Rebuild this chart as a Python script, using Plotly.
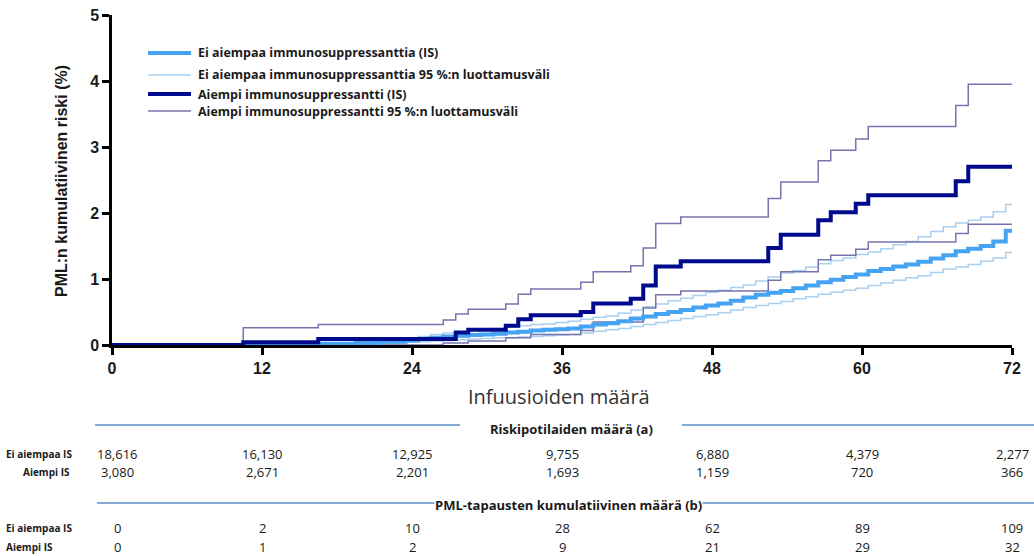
import plotly.graph_objects as go

# ---------------- data ----------------
x_ticks = [0, 12, 24, 36, 48, 60, 72]
y_ticks = [0, 1, 2, 3, 4, 5]

# Ei aiempaa immunosuppressanttia (no prior IS) - step times and cumulative risk (%)
noIS_steps = [16.5, 19.5, 21.5, 23.5, 24.5, 25.5, 26.5, 27.5, 28.5, 29.5, 30.5, 31.5, 32.5, 33.5,
              34.5, 35.5, 36.5, 37.5, 38.5, 39.5, 40.5, 41.5, 42.5, 43.5, 44.5, 45.5, 46.5, 47.5,
              48.5, 49.5, 50.5, 51.5, 52.5, 53.5, 54.5, 55.5, 56.5, 57.5, 58.5, 59.5, 60.5, 61.5,
              62.5, 63.5, 64.5, 65.5, 66.5, 67.5, 68.5, 69.5, 70.5, 71.5]
noIS_est = [0.02, 0.03, 0.05, 0.07, 0.09, 0.11, 0.13, 0.14, 0.15, 0.16, 0.17, 0.19, 0.20, 0.22,
            0.23, 0.24, 0.25, 0.28, 0.31, 0.33, 0.36, 0.40, 0.43, 0.47, 0.50, 0.53, 0.57, 0.60,
            0.63, 0.67, 0.72, 0.76, 0.79, 0.82, 0.86, 0.90, 0.95, 0.99, 1.03, 1.07, 1.12, 1.15,
            1.19, 1.22, 1.26, 1.31, 1.36, 1.42, 1.46, 1.50, 1.57, 1.73]
noIS_upper = [0.03, 0.05, 0.08, 0.11, 0.13, 0.16, 0.18, 0.20, 0.22, 0.23, 0.25, 0.27, 0.29, 0.31,
              0.32, 0.34, 0.36, 0.39, 0.42, 0.44, 0.48, 0.53, 0.58, 0.62, 0.67, 0.71, 0.75, 0.80,
              0.83, 0.87, 0.91, 0.97, 1.03, 1.09, 1.13, 1.18, 1.23, 1.28, 1.32, 1.37, 1.41, 1.46,
              1.52, 1.57, 1.64, 1.72, 1.79, 1.85, 1.89, 1.94, 2.02, 2.13]
noIS_lower = [0.01, 0.01, 0.02, 0.04, 0.05, 0.06, 0.07, 0.08, 0.09, 0.10, 0.11, 0.11, 0.12, 0.13,
              0.14, 0.15, 0.16, 0.18, 0.21, 0.23, 0.25, 0.28, 0.31, 0.34, 0.37, 0.40, 0.43, 0.46,
              0.49, 0.53, 0.57, 0.60, 0.63, 0.66, 0.70, 0.73, 0.77, 0.80, 0.83, 0.86, 0.90, 0.94,
              0.98, 1.02, 1.05, 1.10, 1.15, 1.18, 1.22, 1.27, 1.32, 1.40]

# Aiempi immunosuppressantti (prior IS)
IS_est_steps = [10.5, 16.5, 27.5, 28.5, 31.5, 32.5, 33.5, 37.5, 38.5, 41.5, 42.5, 43.5, 45.5,
                52.5, 53.5, 56.5, 57.5, 59.5, 60.5, 67.5, 68.5]
IS_est = [0.04, 0.09, 0.19, 0.23, 0.29, 0.39, 0.45, 0.50, 0.63, 0.70, 0.90, 1.19, 1.27,
          1.47, 1.67, 1.89, 2.01, 2.14, 2.27, 2.48, 2.70]
IS_upper_steps = [10.5, 16.5, 26.5, 27.5, 28.5, 31.5, 32.5, 33.5, 37.5, 38.5, 41.5, 42.5, 43.5,
                  45.5, 52.5, 53.5, 56.5, 57.5, 59.5, 60.5, 67.5, 68.5]
IS_upper = [0.26, 0.31, 0.38, 0.47, 0.54, 0.62, 0.77, 0.85, 0.95, 1.11, 1.20, 1.47, 1.84,
            1.94, 2.22, 2.47, 2.79, 2.95, 3.12, 3.31, 3.63, 3.95]
IS_lower_steps = [26.5, 28.5, 31.5, 33.5, 37.5, 38.5, 42.5, 43.5, 45.5, 52.5, 53.5, 56.5, 57.5,
                  59.5, 60.5, 67.5, 68.5]
IS_lower = [0.03, 0.06, 0.11, 0.16, 0.22, 0.35, 0.56, 0.76, 0.82, 0.98, 1.11, 1.29, 1.36,
            1.45, 1.56, 1.69, 1.83]

# risk table
risk_noIS = ["18,616", "16,130", "12,925", "9,755", "6,880", "4,379", "2,277"]
risk_IS = ["3,080", "2,671", "2,201", "1,693", "1,159", "720", "366"]
cases_noIS = ["0", "2", "10", "28", "62", "89", "109"]
cases_IS = ["0", "1", "2", "9", "21", "29", "32"]

legend_labels = ["Ei aiempaa immunosuppressanttia (IS)",
                 "Ei aiempaa immunosuppressanttia 95 %:n luottamusväli",
                 "Aiempi immunosuppressantti (IS)",
                 "Aiempi immunosuppressantti 95 %:n luottamusväli"]

# ---------------- styles ----------------
C_EST = "#45A3F2"
C_CI = "#A9D0F0"
C_IS = "#000A8C"
C_IS_CI = "#7674AE"
X_MAX = 72


def step_xy(steps, vals):
    xs = [0] + list(steps) + [X_MAX]
    ys = [0] + list(vals) + [vals[-1]]
    return xs, ys


fig = go.Figure()
series = [
    (noIS_steps, noIS_upper, C_CI, 1.5),
    (noIS_steps, noIS_lower, C_CI, 1.5),
    (IS_upper_steps, IS_upper, C_IS_CI, 1.5),
    (IS_lower_steps, IS_lower, C_IS_CI, 1.5),
    (noIS_steps, noIS_est, C_EST, 4),
    (IS_est_steps, IS_est, C_IS, 4),
]
for steps, vals, col, w in series:
    xs, ys = step_xy(steps, vals)
    fig.add_trace(go.Scatter(x=xs, y=ys, mode="lines", line=dict(color=col, width=w, shape="hv"),
                             showlegend=False, hoverinfo="skip"))

PL, PR, PT, PB = 112, 22, 15, 211
W, H = 1034, 556
PW, PH = W - PL - PR, H - PT - PB


def px_x(px):
    return (px - PL) / PW


def px_y(py):
    return (H - PB - py) / PH


tickfont = dict(family="Liberation Sans, Arial", size=16, color="#1a1a1a", weight="bold")
fig.update_layout(
    width=W, height=H,
    margin=dict(l=PL, r=PR, t=PT, b=PB, autoexpand=False),
    plot_bgcolor="white", paper_bgcolor="white",
    xaxis=dict(range=[0, X_MAX], tickvals=x_ticks, ticktext=[str(t) for t in x_ticks],
               showgrid=False, zeroline=False, showline=True, linecolor="black", linewidth=2.5,
               ticks="outside", ticklen=7, tickwidth=2.5, tickcolor="black", tickfont=tickfont),
    yaxis=dict(range=[0, 5], tickvals=y_ticks, ticktext=[str(t) for t in y_ticks],
               showgrid=False, zeroline=False, showline=True, linecolor="black", linewidth=2.5,
               ticks="outside", ticklen=7, tickwidth=2.5, tickcolor="black", tickfont=tickfont),
    showlegend=False,
)

ann = []
# y-axis title
ann.append(dict(text="PML:n kumulatiivinen riski (%)", x=px_x(61), y=px_y(181), xref="paper", yref="paper",
                xanchor="center", yanchor="middle", textangle=-90, showarrow=False,
                font=dict(family="Liberation Sans, Arial", size=16, color="#1a1a1a", weight="bold")))
# x-axis title
ann.append(dict(text="Infuusioiden määrä", x=px_x(559), y=px_y(397), xref="paper", yref="paper",
                xanchor="center", yanchor="middle",
                showarrow=False, font=dict(family="Open Sans", size=20, color="#333333")))

# legend (manual)
leg_font = dict(family="Open Sans", size=12.5, color="#1a1a1a", weight="bold")
leg_styles = [(C_EST, 4), (C_CI, 1.5), (C_IS, 4), (C_IS_CI, 1.5)]
leg_y = [53, 75, 94, 111]
shapes = []
for lab, (col, w), ly in zip(legend_labels, leg_styles, leg_y):
    shapes.append(dict(type="line", xref="paper", yref="paper", x0=px_x(148), x1=px_x(191),
                       y0=px_y(ly), y1=px_y(ly), line=dict(color=col, width=w)))
    ann.append(dict(text=lab, x=px_x(196), y=px_y(ly), xref="paper", yref="paper",
                    xanchor="left", yanchor="middle", showarrow=False, font=leg_font))

# table section lines
line_col = "#5B8FC9"
shapes.append(dict(type="line", xref="paper", yref="paper", x0=px_x(95), x1=px_x(460),
                   y0=px_y(425), y1=px_y(425), line=dict(color=line_col, width=1.5)))
shapes.append(dict(type="line", xref="paper", yref="paper", x0=px_x(682), x1=px_x(1034),
                   y0=px_y(425), y1=px_y(425), line=dict(color=line_col, width=1.5)))
shapes.append(dict(type="line", xref="paper", yref="paper", x0=px_x(97), x1=px_x(1034),
                   y0=px_y(503), y1=px_y(503), line=dict(color=line_col, width=1.5)))

hdr_font = dict(family="Open Sans", size=13, color="#1a1a1a", weight="bold")
ann.append(dict(text="Riskipotilaiden määrä (a)", x=px_x(571), y=px_y(429), xref="paper", yref="paper",
                xanchor="center", yanchor="middle", showarrow=False, font=hdr_font))
ann.append(dict(text="PML-tapausten kumulatiivinen määrä (b)", x=px_x(434), y=px_y(505), xref="paper",
                yref="paper", xanchor="left", yanchor="middle", showarrow=False, font=hdr_font,
                bgcolor="white", borderpad=0))

lab_font = dict(family="Open Sans", size=10, color="#1a1a1a", weight="bold")
val_font = dict(family="Open Sans", size=13, color="#1a1a1a")
row_labels = [("Ei aiempaa IS", 4, 454), ("Aiempi IS", 21, 472),
              ("Ei aiempaa IS", 4, 528), ("Aiempi IS", 4, 547)]
for txt, lx, ly in row_labels:
    ann.append(dict(text=txt, x=px_x(lx), y=px_y(ly), xref="paper", yref="paper", xanchor="left",
                    yanchor="middle", showarrow=False, font=lab_font))

rows = [(risk_noIS, 454), (risk_IS, 472), (cases_noIS, 528), (cases_IS, 547)]
for vals, ly in rows:
    for xv, v in zip(x_ticks, vals):
        ann.append(dict(text=v, x=xv, y=px_y(ly), xref="x", yref="paper", showarrow=False,
                        xanchor="center", yanchor="middle",
                        xshift=5 if xv == 0 else 0, font=val_font))

fig.update_layout(annotations=ann, shapes=shapes)
fig.write_html("out.html", config={"displayModeBar": False},
               post_script="document.body.style.margin='0';document.body.style.overflow='hidden';")
